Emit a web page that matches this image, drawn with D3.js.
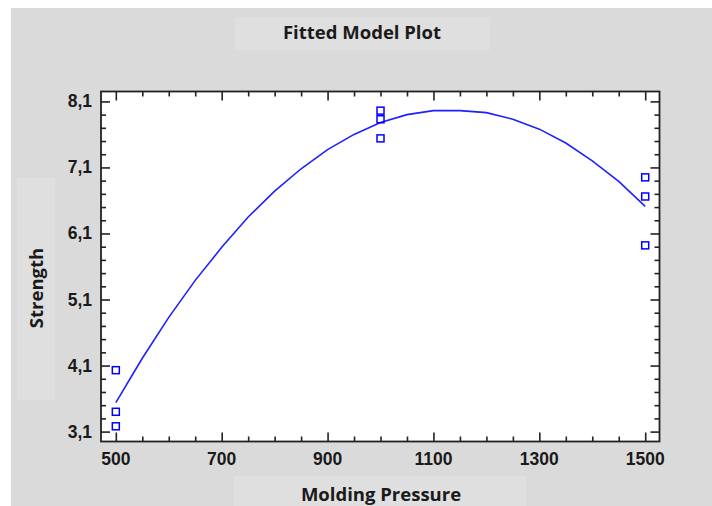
<!DOCTYPE html>
<html>
<head>
<meta charset="utf-8">
<script src="https://cdn.jsdelivr.net/npm/d3@7"></script>
<style>
  body { margin: 0; background: #fff; }
  text { fill: #1a1a1a; }
</style>
</head>
<body>
<div id="chart"></div>
<script>
// observed points
const pressure = [500, 500, 500, 1000, 1000, 1000, 1500, 1500, 1500];
const strength = [4.03, 3.40, 3.18, 7.96, 7.83, 7.54, 6.95, 6.66, 5.92];

// fitted curve
const fitPressure = [500, 550, 600, 650, 700, 750, 800, 850, 900, 950, 1000,
  1050, 1100, 1150, 1200, 1250, 1300, 1350, 1400, 1450, 1500];
const fitStrength = [3.54, 4.21, 4.83, 5.39, 5.89, 6.35, 6.74, 7.08, 7.37, 7.60, 7.78,
  7.90, 7.96, 7.96, 7.93, 7.83, 7.68, 7.47, 7.20, 6.89, 6.51];

const xTicks = [500, 700, 900, 1100, 1300, 1500];
const yTicks = [3.1, 4.1, 5.1, 6.1, 7.1, 8.1];
const yTickLabels = ["3,1", "4,1", "5,1", "6,1", "7,1", "8,1"];

const width = 712, height = 506;
const svg = d3.select("#chart").append("svg")
  .attr("width", width).attr("height", height);

// panels
svg.append("rect").attr("x", 11).attr("y", 8).attr("width", width - 11).attr("height", height - 8)
  .attr("fill", "#dadada");
svg.append("rect").attr("x", 235).attr("y", 17).attr("width", 255).attr("height", 33).attr("fill", "#dfdfdf");
svg.append("rect").attr("x", 17).attr("y", 178).attr("width", 38).attr("height", 222).attr("fill", "#dfdfdf");
svg.append("rect").attr("x", 234).attr("y", 476).attr("width", 292).attr("height", 30).attr("fill", "#dfdfdf");

const x = d3.scaleLinear().domain([472, 1527]).range([101, 659.5]);
const y = d3.scaleLinear().domain([2.95, 8.25]).range([441.5, 91.5]);
const [x0, x1] = x.range(), [y1, y0] = y.range();

const plot = svg.append("g");
plot.append("rect")
  .attr("x", x0).attr("y", y0)
  .attr("width", x1 - x0).attr("height", y1 - y0)
  .attr("fill", "#fff");

const xMinor = d3.range(500, 1501, 50).filter(v => !xTicks.includes(v));
const yMinor = d3.range(3.1, 8.15, 0.2).map(v => +v.toFixed(1)).filter(v => !yTicks.includes(v));

const tickColor = "#222";
// ticks point inward on all four sides
const axes = [
  { make: () => d3.axisTop(x), tr: `translate(0,${y0})`, major: xTicks, minor: xMinor },
  { make: () => d3.axisBottom(x), tr: `translate(0,${y1})`, major: xTicks, minor: xMinor },
  { make: () => d3.axisLeft(y), tr: `translate(${x0},0)`, major: yTicks, minor: yMinor },
  { make: () => d3.axisRight(y), tr: `translate(${x1},0)`, major: yTicks, minor: yMinor }
];
axes.forEach(a => {
  [[a.major, 9], [a.minor, 5]].forEach(([vals, len]) => {
    const g = plot.append("g").attr("transform", a.tr)
      .call(a.make().tickValues(vals).tickSize(-len).tickFormat(""));
    g.select(".domain").remove();
    g.selectAll("line").attr("stroke", tickColor).attr("stroke-width", 1.6);
  });
});

// frame
plot.append("rect")
  .attr("x", x0).attr("y", y0)
  .attr("width", x1 - x0).attr("height", y1 - y0)
  .attr("fill", "none").attr("stroke", tickColor).attr("stroke-width", 1.8);

// tick labels
const labelFont = "'Liberation Sans', Arial, sans-serif";
svg.append("g").selectAll("text").data(xTicks).join("text")
  .attr("x", d => x(d)).attr("y", 465)
  .attr("text-anchor", "middle")
  .style("font-family", labelFont).style("font-weight", "bold").style("font-size", "17.5px")
  .text(d => d);
svg.append("g").selectAll("text").data(yTicks).join("text")
  .attr("x", 92).attr("y", d => y(d) + 6)
  .attr("text-anchor", "end")
  .style("font-family", labelFont).style("font-weight", "bold").style("font-size", "17.5px")
  .text((d, i) => yTickLabels[i]);

// fitted line
const line = d3.line().x(d => x(d[0])).y(d => y(d[1]));
plot.append("path")
  .datum(fitPressure.map((p, i) => [p, fitStrength[i]]))
  .attr("d", line)
  .attr("fill", "none").attr("stroke", "#1f1fff").attr("stroke-width", 1.6);

// observations
plot.append("g").selectAll("rect").data(pressure.map((p, i) => [p, strength[i]])).join("rect")
  .attr("x", d => x(d[0]) - 3.5).attr("y", d => y(d[1]) - 3.5)
  .attr("width", 7).attr("height", 7)
  .attr("fill", "none").attr("stroke", "#0000ff").attr("stroke-width", 1.5);

// titles
const titleFont = "'Open Sans', 'Noto Sans', sans-serif";
svg.append("text").attr("x", 362).attr("y", 39)
  .attr("text-anchor", "middle")
  .style("font-family", titleFont).style("font-weight", "bold").style("font-size", "18.5px")
  .text("Fitted Model Plot");
svg.append("text").attr("x", 381).attr("y", 501)
  .attr("text-anchor", "middle")
  .style("font-family", titleFont).style("font-weight", "bold").style("font-size", "18.5px")
  .text("Molding Pressure");
svg.append("text").attr("transform", "translate(43,288) rotate(-90)")
  .attr("text-anchor", "middle")
  .style("font-family", titleFont).style("font-weight", "bold").style("font-size", "18.5px")
  .text("Strength");
</script>
</body>
</html>
